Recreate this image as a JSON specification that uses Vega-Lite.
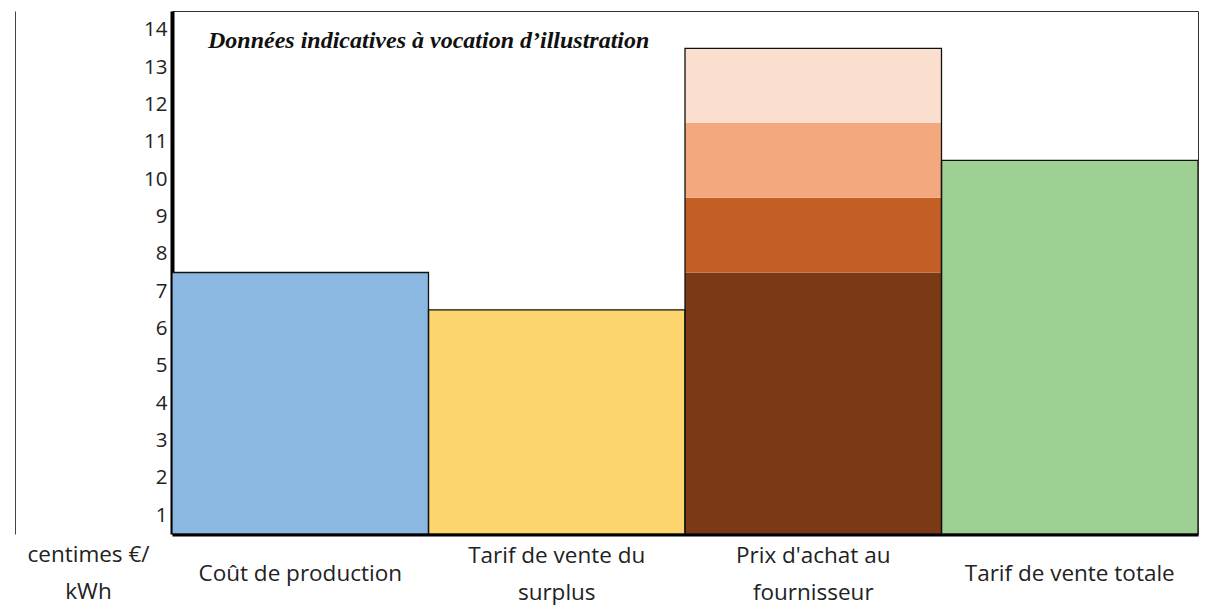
{
  "$schema": "https://vega.github.io/schema/vega-lite/v6.json",
  "width": 1026,
  "height": 523,
  "padding": {"left": 172, "top": 11, "right": 9, "bottom": 71},
  "autosize": {"type": "none"},
  "background": "white",
  "config": {
    "view": {"stroke": "#333", "strokeWidth": 1},
    "font": "Open Sans"
  },
  "title": {
    "text": "Données indicatives à vocation d’illustration",
    "font": "Liberation Serif",
    "fontStyle": "italic",
    "fontWeight": "bold",
    "fontSize": 24,
    "color": "#111",
    "anchor": "start",
    "frame": "group",
    "baseline": "top",
    "offset": 0,
    "dx": 36,
    "dy": 42
  },
  "data": {
    "values": [
      {"cat": "Coût de production", "seg": "cout", "o": 1, "value": 7.5},
      {"cat": "Tarif de vente du|surplus", "seg": "surplus", "o": 1, "value": 6.5},
      {"cat": "Prix d'achat au|fournisseur", "seg": "achat1", "o": 1, "value": 7.5},
      {"cat": "Prix d'achat au|fournisseur", "seg": "achat2", "o": 2, "value": 2},
      {"cat": "Prix d'achat au|fournisseur", "seg": "achat3", "o": 3, "value": 2},
      {"cat": "Prix d'achat au|fournisseur", "seg": "achat4", "o": 4, "value": 2},
      {"cat": "Tarif de vente totale", "seg": "totale", "o": 1, "value": 10.5}
    ]
  },
  "layer": [
    {
      "mark": {"type": "bar", "clip": true, "strokeWidth": 0},
      "encoding": {
        "x": {
          "field": "cat",
          "type": "nominal",
          "sort": null,
          "scale": {"paddingInner": 0, "paddingOuter": 0},
          "axis": {
            "orient": "bottom",
            "title": null,
            "labelAngle": 0,
            "labelExpr": "indexof(datum.label, '|') >= 0 ? split(datum.label, '|') : ''",
            "labelFontSize": 22.5,
            "labelColor": "#222",
            "labelLineHeight": 37,
            "labelBaseline": "middle",
            "labelPadding": 21,
            "labelLimit": 400,
            "ticks": false,
            "domainColor": "#000",
            "domainWidth": 4
          }
        },
        "y": {
          "field": "value",
          "type": "quantitative",
          "stack": "zero",
          "scale": {"domain": [0.5, 14.5], "nice": false, "zero": false},
          "axis": {
            "values": [1, 2, 3, 4, 5, 6, 7, 8, 9, 10, 11, 12, 13, 14],
            "grid": false,
            "ticks": false,
            "labelFontSize": 20.5,
            "labelColor": "#222",
            "labelPadding": 5,
            "domainColor": "#000",
            "domainWidth": 4,
            "title": ["centimes €/", "kWh"],
            "titleAngle": 0,
            "titleFont": "Open Sans",
            "titleFontSize": 22.5,
            "titleFontWeight": "normal",
            "titleColor": "#222",
            "titleAlign": "center",
            "titleBaseline": "top",
            "titleLineHeight": 37,
            "titleX": -84,
            "titleY": 532
          }
        },
        "color": {
          "field": "seg",
          "type": "nominal",
          "legend": null,
          "scale": {
            "domain": ["cout", "surplus", "achat1", "achat2", "achat3", "achat4", "totale"],
            "range": ["#8AB8E1", "#FDD56E", "#7B3916", "#C35F24", "#F3A87E", "#FADFCF", "#9DD092"]
          }
        },
        "order": {"field": "o", "type": "quantitative"}
      }
    },
    {
      "mark": {"type": "bar", "clip": true, "fill": null, "fillOpacity": 0, "stroke": "#111", "strokeWidth": 1.3},
      "encoding": {
        "x": {
          "field": "cat",
          "type": "nominal",
          "sort": null,
          "axis": {
            "orient": "bottom",
            "title": null,
            "labelAngle": 0,
            "labelExpr": "indexof(datum.label, '|') >= 0 ? '' : datum.label",
            "labelFontSize": 22.5,
            "labelColor": "#222",
            "labelBaseline": "middle",
            "labelPadding": 39,
            "labelLimit": 400,
            "ticks": false,
            "domain": false
          }
        },
        "y": {
          "aggregate": "sum",
          "field": "value",
          "type": "quantitative",
          "axis": {
            "orient": "left",
            "offset": 157,
            "labels": false,
            "ticks": false,
            "grid": false,
            "title": null,
            "domainColor": "#444",
            "domainWidth": 1
          }
        }
      }
    }
  ],
  "resolve": {"axis": {"y": "independent", "x": "independent"}}
}
